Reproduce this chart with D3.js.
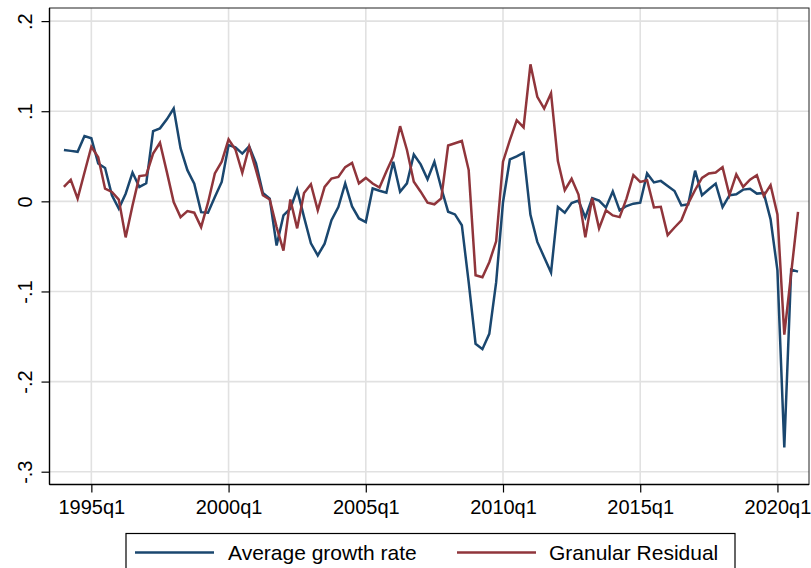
<!DOCTYPE html>
<html>
<head>
<meta charset="utf-8">
<script src="https://cdn.jsdelivr.net/npm/d3@7"></script>
<style>
	body { margin: 0; background: #fff; }
	svg { display: block; }
</style>
</head>
<body>
<div id="chart"></div>
<script>
//Data----------------------------------------------------------------------
//stata quarterly index of first observation (1994q1)
var firstQuarter = 136;

var avgGrowth = [
	.057, .056, .055, .0725, .070, .042, .037, .0067, -.008, .0085,
	.032, .016, .020, .078, .081, .091, .103, .059, .0346, .0197,
	-.012, -.0126, .0048, .0215, .0624, .060, .053, .061, .042, .0093,
	.003, -.049, -.0156, -.0082, .013, -.0175, -.0465, -.060, -.047, -.021,
	-.0063, .020, -.0056, -.019, -.023, .0143, .0118, .0096, .044, .0107,
	.020, .052, .041, .0245, .044, .0148, -.0115, -.0145, -.0265, -.090,
	-.158, -.164, -.147, -.090, -.001, .0465, .050, .054, -.015, -.045,
	-.062, -.079, -.0063, -.0126, -.0019, .0008, -.018, .0037, .0008, -.007,
	.011, -.010, -.0052, -.0026, -.0015, .031, .021, .0227, .017, .0115,
	-.0045, -.0033, .034, .0067, .0134, .0197, -.0063, .0067, .0078, .013,
	.014, .0086, .0093, -.020, -.0766, -.273, -.0758, -.078
];

var granularResidual = [
	.016, .024, .003, .032, .0606, .049, .014, .0104, .002, -.040,
	-.0045, .028, .029, .053, .065, .0327, -.0008, -.0175, -.0108, -.0126,
	-.0286, -.0015, .031, .044, .0688, .0576, .0316, .0606, .0346, .0067,
	.002, -.0286, -.0546, .002, -.030, .0093, .019, -.010, .016, .0253,
	.027, .038, .0427, .020, .026, .0197, .0153, .0331, .0498, .0834,
	.057, .0217, .0107, -.0015, -.0033, .0033, .062, .0645, .067, .0347,
	-.082, -.0843, -.0675, -.0444, .044, .068, .090, .082, .152, .116,
	.103, .120, .0446, .0123, .025, .0075, -.040, .0037, -.030, -.010,
	-.0156, -.0175, .003, .029, .0215, .0234, -.0067, -.006, -.0375, -.029,
	-.021, -.0022, .0126, .026, .031, .032, .038, .007, .030, .016,
	.024, .029, .006, .018, -.0145, -.148, -.080, -.0116
];

var xTickValues = [140, 160, 180, 200, 220, 240];
var xTickLabels = ['1995q1', '2000q1', '2005q1', '2010q1', '2015q1', '2020q1'];
var yTickValues = [.2, .1, 0, -.1, -.2, -.3];
var yTickLabels = ['.2', '.1', '0', '-.1', '-.2', '-.3'];

var seriesNames = ['Average growth rate', 'Granular Residual'];
var seriesColors = ['#1a476f', '#90353b'];

//Layout--------------------------------------------------------------------
var W = 811, H = 568;
var plot = { left: 49.5, right: 809, top: 8, bottom: 484.5 };
var FONT = "'Liberation Sans', Arial, sans-serif";

var svg = d3.select('#chart').append('svg')
	.attr('width', W)
	.attr('height', H);

var x = d3.scaleLinear()
	.domain([133.9, 244.6])
	.range([plot.left, plot.right]);

var y = d3.scaleLinear()
	.domain([-.3, .2])
	.range([471.7, 21.1]);

//grid lines
var grid = svg.append('g').classed('grid', true);
grid.selectAll('line.h')
	.data(yTickValues)
	.enter()
	.append('line')
	.attr('x1', plot.left)
	.attr('x2', plot.right)
	.attr('y1', function (d) { return y(d); })
	.attr('y2', function (d) { return y(d); })
	.style('stroke', '#e1e1e1')
	.style('stroke-width', 1.6);
grid.selectAll('line.v')
	.data(xTickValues)
	.enter()
	.append('line')
	.attr('y1', plot.top)
	.attr('y2', plot.bottom)
	.attr('x1', function (d) { return x(d); })
	.attr('x2', function (d) { return x(d); })
	.style('stroke', '#e1e1e1')
	.style('stroke-width', 1.6);

//frame
svg.append('rect')
	.attr('x', plot.left)
	.attr('y', plot.top)
	.attr('width', plot.right - plot.left)
	.attr('height', plot.bottom - plot.top)
	.style('fill', 'none')
	.style('stroke', '#222')
	.style('stroke-width', 1);

//series lines
svg.append('clipPath').attr('id', 'plot-clip')
	.append('rect')
	.attr('x', plot.left)
	.attr('y', plot.top)
	.attr('width', plot.right - plot.left)
	.attr('height', plot.bottom - plot.top);

var line = d3.line()
	.x(function (d, i) { return x(firstQuarter + i); })
	.y(function (d) { return y(d); });

var lines = svg.append('g').attr('clip-path', 'url(#plot-clip)');
[avgGrowth, granularResidual].forEach(function (s, k) {
	lines.append('path')
		.datum(s)
		.attr('d', line)
		.style('fill', 'none')
		.style('stroke', seriesColors[k])
		.style('stroke-width', 2.5)
		.style('stroke-linejoin', 'miter');
});

//axes
var xAxis = d3.axisBottom(x)
	.tickValues(xTickValues)
	.tickFormat(function (d, i) { return xTickLabels[i]; })
	.tickSize(8)
	.tickSizeOuter(0);
var yAxis = d3.axisLeft(y)
	.tickValues(yTickValues)
	.tickFormat(function (d, i) { return yTickLabels[i]; })
	.tickSize(8)
	.tickSizeOuter(0);

var gx = svg.append('g')
	.attr('transform', 'translate(0,' + plot.bottom + ')')
	.call(xAxis);
gx.select('.domain')
	.attr('d', 'M' + plot.left + ',0H' + plot.right)
	.style('stroke', '#000')
	.style('stroke-width', 1.4);
gx.selectAll('.tick line').style('stroke', '#000').style('stroke-width', 1.2);
gx.selectAll('.tick text')
	.attr('y', 29)
	.attr('dy', null)
	.style('font-family', FONT)
	.style('font-size', '20px')
	.style('fill', '#000');

var gy = svg.append('g')
	.attr('transform', 'translate(' + plot.left + ',0)')
	.call(yAxis);
gy.select('.domain')
	.attr('d', 'M0,' + plot.top + 'V' + plot.bottom)
	.style('stroke', '#000')
	.style('stroke-width', 1.4);
gy.selectAll('.tick line').style('stroke', '#000').style('stroke-width', 1.2);
gy.selectAll('.tick text')
	.attr('x', null)
	.attr('dy', null)
	.attr('text-anchor', 'middle')
	.attr('transform', 'translate(-17.5,0) rotate(-90)')
	.style('font-family', FONT)
	.style('font-size', '20px')
	.style('fill', '#000');

//legend (box runs past the bottom edge)
var legend = svg.append('g').classed('legend', true);
legend.append('rect')
	.attr('x', 126)
	.attr('y', 533.5)
	.attr('width', 609)
	.attr('height', 60)
	.style('fill', '#fff')
	.style('stroke', '#000')
	.style('stroke-width', 1.2);

var legendItems = [
	{ x1: 135, x2: 214, tx: 228 },
	{ x1: 457, x2: 536, tx: 549 }
];
legendItems.forEach(function (it, k) {
	legend.append('line')
		.attr('x1', it.x1)
		.attr('x2', it.x2)
		.attr('y1', 552.5)
		.attr('y2', 552.5)
		.style('stroke', seriesColors[k])
		.style('stroke-width', 2.5);
	legend.append('text')
		.attr('x', it.tx)
		.attr('y', 559.5)
		.style('font-family', FONT)
		.style('font-size', '21px')
		.style('fill', '#000')
		.text(seriesNames[k]);
});
</script>
</body>
</html>
